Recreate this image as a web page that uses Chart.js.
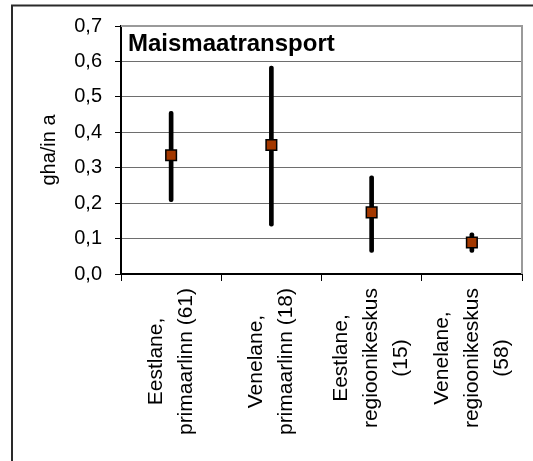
<!DOCTYPE html>
<html>
<head>
<meta charset="utf-8">
<script src="https://cdn.jsdelivr.net/npm/chart.js@4/dist/chart.umd.min.js"></script>
<style>
  body { margin: 0; background: #fff; }
  #wrap { width: 533px; height: 461px; position: relative; }
</style>
</head>
<body>
<div id="wrap"><canvas id="chart"></canvas></div>
<script>
// data
let categories = [
    ["Eestlane,", "primaarlinn (61)"],
    ["Venelane,", "primaarlinn (18)"],
    ["Eestlane,", "regioonikeskus", "(15)"],
    ["Venelane,", "regioonikeskus", "(58)"]
]
let means = [0.335, 0.364, 0.174, 0.089]
let lows = [0.204, 0.135, 0.061, 0.061]
let highs = [0.459, 0.587, 0.277, 0.116]
let yMin = 0
let yMax = 0.7
let yStep = 0.1
let chartTitle = "Maismaatransport"
let yTitle = "gha/in a"

const fontFamily = '"Liberation Sans", Arial, sans-serif'

let ranges = lows.map((lo, i) => [lo, highs[i]])

// frame, plot border, title and rotated category labels
const extras = {
    id: 'extras',
    beforeDatasetsDraw(chart) {
        const { ctx, chartArea } = chart
        ctx.save()
        ctx.strokeStyle = '#9a9a9a'
        ctx.lineWidth = 2
        ctx.beginPath()
        ctx.moveTo(chartArea.left, chartArea.top)
        ctx.lineTo(chartArea.right, chartArea.top)
        ctx.lineTo(chartArea.right, chartArea.bottom)
        ctx.stroke()
        ctx.restore()
    },
    afterDraw(chart) {
        const { ctx, chartArea } = chart
        const xScale = chart.scales.x
        ctx.save()
        // outer frame (only left and top visible)
        ctx.strokeStyle = '#2a2a2a'
        ctx.lineWidth = 2
        ctx.beginPath()
        ctx.moveTo(12, 461)
        ctx.lineTo(12, 5.5)
        ctx.lineTo(533, 5.5)
        ctx.stroke()

        // title inside plot
        ctx.fillStyle = '#000'
        ctx.font = 'bold 24px ' + fontFamily
        ctx.textAlign = 'left'
        ctx.textBaseline = 'alphabetic'
        ctx.fillText(chartTitle, 128, 51)

        // category labels, rotated, lines centred on each other
        ctx.font = '21px ' + fontFamily
        categories.forEach((lines, i) => {
            const x = xScale.getPixelForValue(i)
            let maxW = 0
            lines.forEach(l => { maxW = Math.max(maxW, ctx.measureText(l).width) })
            const cy = chartArea.bottom + 14 + maxW / 2
            lines.forEach((l, j) => {
                const cx = x + (j - (lines.length - 1) / 2) * 30
                ctx.save()
                ctx.translate(cx, cy)
                ctx.rotate(-Math.PI / 2)
                ctx.textAlign = 'center'
                ctx.textBaseline = 'middle'
                ctx.fillText(l, 0, 0)
                ctx.restore()
            })
        })
        ctx.restore()
    }
}

let chart = new Chart(document.getElementById('chart'), {
    type: 'bar',
    data: {
        labels: categories.map(c => c.join(' ')),
        datasets: [{
            type: 'line',
            label: 'keskmine',
            data: means,
            showLine: false,
            pointStyle: 'rect',
            pointRadius: 7.5,
            pointBackgroundColor: '#a33800',
            pointBorderColor: '#000',
            pointBorderWidth: 1.5,
            order: 1
        }, {
            type: 'bar',
            label: 'vahemik',
            data: ranges,
            backgroundColor: '#000',
            barThickness: 4,
            borderRadius: 2,
            borderSkipped: false,
            order: 2
        }]
    },
    plugins: [extras],
    options: {
        responsive: true,
        maintainAspectRatio: false,
        animation: false,
        layout: { padding: { top: 26, right: 11, left: 0, bottom: 0 } },
        plugins: {
            legend: { display: false },
            tooltip: { enabled: false }
        },
        scales: {
            x: {
                offset: true,
                grid: {
                    offset: true,
                    drawOnChartArea: false,
                    tickLength: 7,
                    tickColor: '#000'
                },
                border: { color: '#000', width: 2 },
                ticks: { display: false },
                afterFit(scale) { scale.height = 187 }
            },
            y: {
                min: yMin,
                max: yMax,
                grid: {
                    color: '#6e6e6e',
                    lineWidth: 1,
                    tickLength: 6,
                    tickColor: '#000'
                },
                border: { color: '#000', width: 2 },
                ticks: {
                    stepSize: yStep,
                    padding: 13,
                    color: '#000',
                    font: { family: fontFamily, size: 20 },
                    callback: v => Number(v).toFixed(1).replace('.', ',')
                },
                title: {
                    display: true,
                    text: yTitle,
                    color: '#000',
                    font: { family: fontFamily, size: 20 },
                    padding: { top: 37, bottom: 0 }
                },
                afterFit(scale) { scale.width = 121 }
            }
        }
    }
})
</script>
</body>
</html>
